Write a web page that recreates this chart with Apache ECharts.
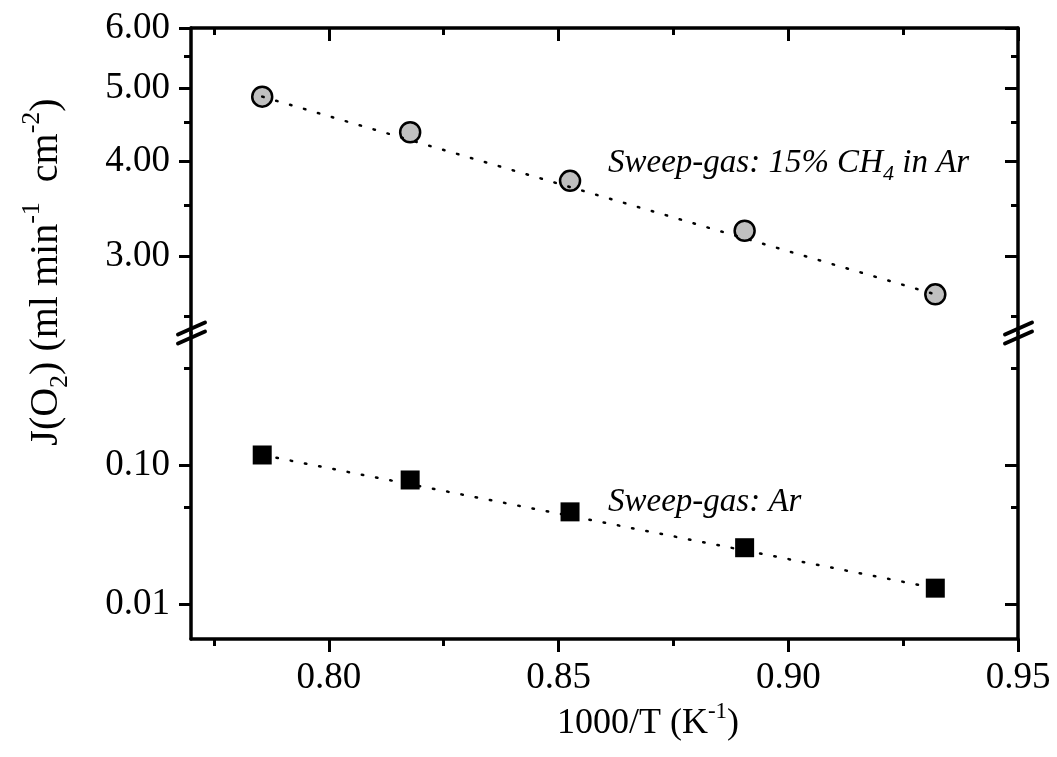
<!DOCTYPE html>
<html>
<head>
<meta charset="utf-8">
<style>
html, body { margin: 0; padding: 0; background: #fff; }
#main { width: 1057px; height: 757px; }
</style>
<script src="https://cdn.jsdelivr.net/npm/echarts@6/dist/echarts.min.js"></script>
</head>
<body>
<div id="main"></div>
<script>
// measured data (1000/T, oxygen flux)
var invTemp = [0.7855, 0.8177, 0.8525, 0.8905, 0.9320];
var fluxCH4 = [4.87, 4.37, 3.77, 3.24, 2.67];
var fluxAr = [0.118, 0.078, 0.046, 0.0254, 0.0130];
// dotted fit lines
var fitX = [0.7855, 0.9320];
var fitCH4 = [4.87, 2.67];
var fitAr = [0.118, 0.0130];
// ticks
var xMajor = [0.80, 0.85, 0.90, 0.95];
var xMinor = [0.775, 0.825, 0.875, 0.925];
var upMajor = [3, 4, 5, 6];
var upMinor = [2.5, 3.5, 4.5, 5.5];
var lowMajor = [0.01, 0.1];
var lowMinor = [0.05, 0.5];

var FONT = 'Liberation Serif';
var LEFT = 191, RIGHT = 1018, TOP = 28, BREAK = 333, BOTTOM = 639;

function pairs(xs, ys) {
    return xs.map(function (x, i) { return [x, ys[i]]; });
}

function fmt2(v) { return Number(v).toFixed(2); }

/**
 * one axis that only draws a set of ticks (and optionally line / labels)
 */
function tickAxis(o) {
    var ax = {
        gridIndex: o.grid,
        position: o.pos,
        type: o.log ? 'log' : 'value',
        min: o.min,
        max: o.max,
        axisLine: { show: !!o.line, onZero: false, lineStyle: { color: '#000', width: 3.5 } },
        axisTick: {
            show: true, inside: !!o.inside, length: o.len,
            customValues: o.ticks,
            lineStyle: { color: '#000', width: 3 }
        },
        axisLabel: { show: false },
        splitLine: { show: false },
        minorTick: { show: false }
    };
    if (o.log) ax.logBase = 10;
    if (o.labels) {
        ax.axisLabel = {
            show: true, customValues: o.ticks, margin: o.margin,
            formatter: fmt2, color: '#000', fontFamily: FONT, fontSize: 37
        };
    }
    return ax;
}

var xMin = 0.77, xMax = 0.95;
var upMin = 2.374, upMax = 6;
var lowMin = 0.0056, lowMax = 0.89;

var xAxes = [
    tickAxis({ grid: 0, pos: 'top', min: xMin, max: xMax, ticks: xMajor, len: 13, inside: true, line: true }),
    tickAxis({ grid: 0, pos: 'top', min: xMin, max: xMax, ticks: xMinor, len: 7, inside: true }),
    tickAxis({ grid: 1, pos: 'bottom', min: xMin, max: xMax, ticks: xMajor, len: 13, line: true, labels: true, margin: 21 }),
    tickAxis({ grid: 1, pos: 'bottom', min: xMin, max: xMax, ticks: xMinor, len: 7 })
];

var yAxes = [
    tickAxis({ grid: 0, pos: 'left', log: true, min: upMin, max: upMax, ticks: upMajor, len: 12, line: true, labels: true, margin: 21 }),
    tickAxis({ grid: 0, pos: 'left', log: true, min: upMin, max: upMax, ticks: upMinor, len: 7 }),
    tickAxis({ grid: 0, pos: 'right', log: true, min: upMin, max: upMax, ticks: upMajor, len: 13, inside: true, line: true }),
    tickAxis({ grid: 0, pos: 'right', log: true, min: upMin, max: upMax, ticks: upMinor, len: 7, inside: true }),
    tickAxis({ grid: 1, pos: 'left', log: true, min: lowMin, max: lowMax, ticks: lowMajor, len: 12, line: true, labels: true, margin: 21 }),
    tickAxis({ grid: 1, pos: 'left', log: true, min: lowMin, max: lowMax, ticks: lowMinor, len: 7 }),
    tickAxis({ grid: 1, pos: 'right', log: true, min: lowMin, max: lowMax, ticks: lowMajor, len: 13, inside: true, line: true }),
    tickAxis({ grid: 1, pos: 'right', log: true, min: lowMin, max: lowMax, ticks: lowMinor, len: 7, inside: true })
];

var dotted = { color: '#000', width: 2.5, type: [1.5, 13], cap: 'round' };

// axis break marks "//"
function breakMarks(cx, cy) {
    return [-4.5, 4.5].map(function (d) {
        return {
            type: 'line', z: 100,
            shape: { x1: cx - 13, y1: cy + d + 6, x2: cx + 14, y2: cy + d - 6 },
            style: { stroke: '#000', lineWidth: 4, lineCap: 'round' }
        };
    });
}

var rich = {
    n: { fontFamily: FONT, fontSize: 36, lineHeight: 48, verticalAlign: 'middle', color: '#000' },
    sp: { fontFamily: FONT, fontSize: 23, verticalAlign: 'top', color: '#000' },
    sb: { fontFamily: FONT, fontSize: 23, verticalAlign: 'bottom', color: '#000' },
    yn: { fontFamily: FONT, fontSize: 40, lineHeight: 54, verticalAlign: 'middle', color: '#000' },
    ysp: { fontFamily: FONT, fontSize: 26, verticalAlign: 'top', color: '#000' },
    ysb: { fontFamily: FONT, fontSize: 26, verticalAlign: 'bottom', color: '#000' },
    i: { fontFamily: FONT, fontStyle: 'italic', fontSize: 33, lineHeight: 44, verticalAlign: 'middle', color: '#000' },
    isb: { fontFamily: FONT, fontStyle: 'italic', fontSize: 22, verticalAlign: 'bottom', color: '#000' }
};

var graphics = [].concat(
    breakMarks(LEFT, BREAK),
    breakMarks(RIGHT, BREAK),
    [
        {
            type: 'text', x: 46, y: 272, rotation: Math.PI / 2,
            style: { text: '{yn|J(O}{ysb|2}{yn|) (ml min}{ysp|-1}{yn|  cm}{ysp|-2}{yn|)}', rich: rich, align: 'center', verticalAlign: 'middle' }
        },
        {
            type: 'text', x: 648, y: 724,
            style: { text: '{n|1000/T (K}{sp|-1}{n|)}', rich: rich, align: 'center', verticalAlign: 'middle' }
        },
        {
            type: 'text', x: 608, y: 163,
            style: { text: '{i|Sweep-gas: 15% CH}{isb|4}{i| in Ar}', rich: rich, align: 'left', verticalAlign: 'middle' }
        },
        {
            type: 'text', x: 608, y: 502,
            style: { text: '{i|Sweep-gas: Ar}', rich: rich, align: 'left', verticalAlign: 'middle' }
        }
    ]
);

var chart = echarts.init(document.getElementById('main'), null, { renderer: 'canvas' });
chart.setOption({
    animation: false,
    backgroundColor: '#fff',
    grid: [
        { left: LEFT, right: 1057 - RIGHT, top: TOP, height: BREAK - TOP },
        { left: LEFT, right: 1057 - RIGHT, top: BREAK, height: BOTTOM - BREAK }
    ],
    xAxis: xAxes,
    yAxis: yAxes,
    series: [
        {
            type: 'scatter', xAxisIndex: 0, yAxisIndex: 0,
            data: pairs(invTemp, fluxCH4),
            symbol: 'circle', symbolSize: 20,
            itemStyle: { color: '#c0c0c0', borderColor: '#000', borderWidth: 2.5, opacity: 1 },
            z: 3
        },
        {
            type: 'line', xAxisIndex: 0, yAxisIndex: 0,
            data: pairs(fitX, fitCH4),
            symbol: 'none', lineStyle: dotted, z: 4
        },
        {
            type: 'scatter', xAxisIndex: 2, yAxisIndex: 4,
            data: pairs(invTemp, fluxAr),
            symbol: 'rect', symbolSize: 19,
            itemStyle: { color: '#000', opacity: 1 },
            z: 3
        },
        {
            type: 'line', xAxisIndex: 2, yAxisIndex: 4,
            data: pairs(fitX, fitAr),
            symbol: 'none', lineStyle: dotted, z: 4
        }
    ],
    graphic: graphics
});
</script>
</body>
</html>
